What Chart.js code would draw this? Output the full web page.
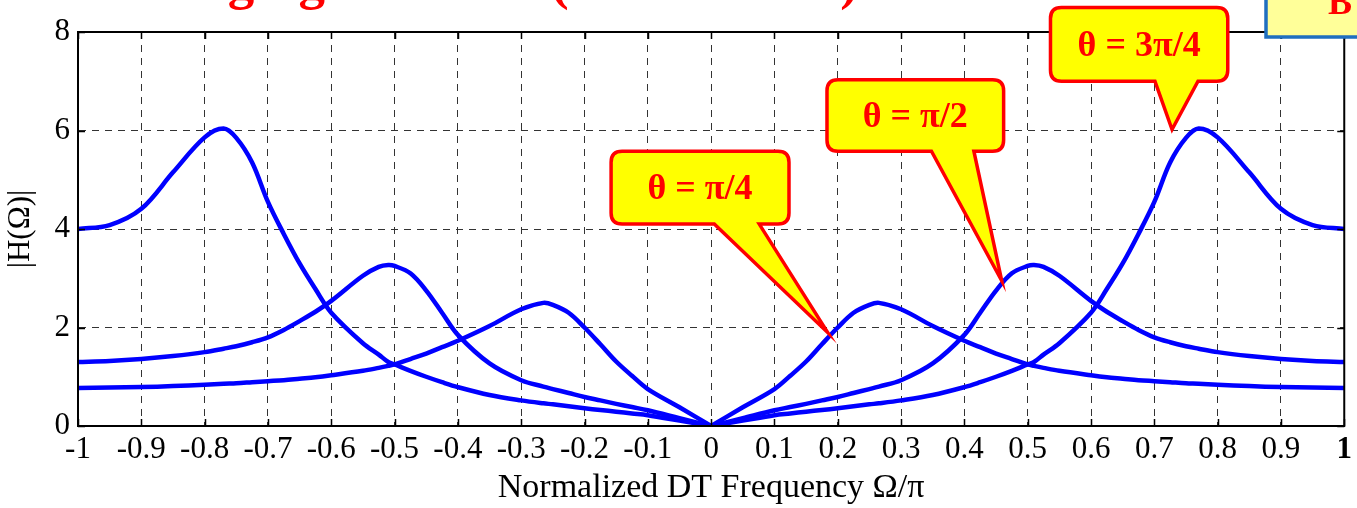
<!DOCTYPE html>
<html>
<head>
<meta charset="utf-8">
<script src="https://cdn.jsdelivr.net/npm/chart.js@4.4.1/dist/chart.umd.min.js"></script>
<style>
  html, body { margin: 0; padding: 0; background: #fff; }
  #wrap { width: 1357px; height: 508px; position: relative; }
</style>
</head>
<body>
<div id="wrap"><canvas id="magChart" width="1357" height="508"></canvas></div>
<script>
// normalized frequency Omega/pi
const freq = [-1, -0.95, -0.9, -0.85, -0.8, -0.77, -0.75, -0.725, -0.7, -0.675, -0.65, -0.625, -0.6,
    -0.55, -0.525, -0.51, -0.5, -0.475, -0.45, -0.425, -0.4, -0.35, -0.3, -0.265, -0.25,
    -0.225, -0.2, -0.175, -0.15, -0.125, -0.1, -0.05, 0,
    0.05, 0.1, 0.125, 0.15, 0.175, 0.2, 0.225, 0.25, 0.265, 0.3, 0.35, 0.4, 0.425,
    0.45, 0.475, 0.5, 0.51, 0.525, 0.55, 0.6, 0.625, 0.65, 0.675, 0.7, 0.725, 0.75,
    0.77, 0.8, 0.85, 0.9, 0.95, 1];

// |H| for theta = pi/4
const magQuarter = [0.77, 0.78, 0.79, 0.81, 0.84, 0.86, 0.87, 0.89, 0.91, 0.93, 0.96, 0.99, 1.03,
    1.12, 1.18, 1.22, 1.25, 1.36, 1.47, 1.6, 1.73, 2.03, 2.37, 2.5, 2.46,
    2.3, 2.0, 1.66, 1.31, 1.02, 0.75, 0.38, 0,
    0.38, 0.75, 1.02, 1.31, 1.66, 2.0, 2.3, 2.46, 2.5, 2.37, 2.03, 1.73, 1.6,
    1.47, 1.36, 1.25, 1.22, 1.18, 1.12, 1.03, 0.99, 0.96, 0.93, 0.91, 0.89, 0.87,
    0.86, 0.84, 0.81, 0.79, 0.78, 0.77];

// |H| for theta = pi/2
const magHalf = [1.3, 1.32, 1.36, 1.42, 1.5, 1.57, 1.62, 1.7, 1.8, 1.95, 2.13, 2.32, 2.54,
    3.05, 3.23, 3.27, 3.25, 3.1, 2.75, 2.3, 1.85, 1.27, 0.93, 0.8, 0.75,
    0.67, 0.59, 0.52, 0.45, 0.385, 0.32, 0.16, 0,
    0.16, 0.32, 0.385, 0.45, 0.52, 0.59, 0.67, 0.75, 0.8, 0.93, 1.27, 1.85, 2.3,
    2.75, 3.1, 3.25, 3.27, 3.23, 3.05, 2.54, 2.32, 2.13, 1.95, 1.8, 1.7, 1.62,
    1.57, 1.5, 1.42, 1.36, 1.32, 1.3];

// |H| for theta = 3pi/4
const magThreeQuarter = [4.0, 4.08, 4.41, 5.15, 5.86, 6.04, 5.85, 5.35, 4.55, 3.9, 3.3, 2.78, 2.3,
    1.68, 1.45, 1.3, 1.25, 1.12, 1.0, 0.89, 0.79, 0.63, 0.52, 0.46, 0.44,
    0.4, 0.36, 0.325, 0.29, 0.255, 0.22, 0.11, 0,
    0.11, 0.22, 0.255, 0.29, 0.325, 0.36, 0.4, 0.44, 0.46, 0.52, 0.63, 0.79, 0.89,
    1.0, 1.12, 1.25, 1.3, 1.45, 1.68, 2.3, 2.78, 3.3, 3.9, 4.55, 5.35, 5.85,
    6.04, 5.86, 5.15, 4.41, 4.08, 4.0];

const xTickValues = [-1, -0.9, -0.8, -0.7, -0.6, -0.5, -0.4, -0.3, -0.2, -0.1, 0,
    0.1, 0.2, 0.3, 0.4, 0.5, 0.6, 0.7, 0.8, 0.9, 1];
const xTickLabels = ['-1', '-0.9', '-0.8', '-0.7', '-0.6', '-0.5', '-0.4', '-0.3', '-0.2', '-0.1', '0',
    '0.1', '0.2', '0.3', '0.4', '0.5', '0.6', '0.7', '0.8', '0.9', '1'];
const yTickValues = [0, 2, 4, 6, 8];

// callout balloons, given in data units (tip, box corners, tail base)
const callouts = [
    { text: 'θ = π/4', tip: [0.184, 1.9], x0: -0.158, x1: 0.123, y0: 5.58, y1: 4.1, tail: [0.005, 0.076] },
    { text: 'θ = π/2', tip: [0.459, 2.95], x0: 0.183, x1: 0.462, y0: 7.03, y1: 5.58, tail: [0.348, 0.415] },
    { text: 'θ = 3π/4', tip: [0.728, 6.02], x0: 0.536, x1: 0.816, y0: 8.5, y1: 7.0, tail: [0.701, 0.769] }
];

const SERIF = '"Liberation Serif", "Times New Roman", serif';

// split each curve at 0 so the notch stays sharp
function halves(values) {
    const left = [], right = [];
    freq.forEach((f, i) => {
        if (f <= 0) left.push({ x: f, y: values[i] });
        if (f >= 0) right.push({ x: f, y: values[i] });
    });
    return [left, right];
}

function makeDatasets() {
    const sets = [];
    [magQuarter, magHalf, magThreeQuarter].forEach(values => {
        halves(values).forEach(part => {
            sets.push({
                data: part,
                borderColor: '#0000ff',
                borderWidth: 4.5,
                pointRadius: 0,
                fill: false,
                tension: 0.35,
                borderJoinStyle: 'round',
                borderCapStyle: 'round'
            });
        });
    });
    return sets;
}

// frame, inside tick marks, callouts and the clipped texts at the top
const decorPlugin = {
    id: 'decor',
    afterDraw(chart) {
        const ctx = chart.ctx;
        const area = chart.chartArea;
        const xs = chart.scales.x;
        const ys = chart.scales.y;

        ctx.save();
        ctx.strokeStyle = '#000';
        ctx.lineWidth = 1.5;
        ctx.setLineDash([]);
        xTickValues.forEach(v => {
            const px = Math.round(xs.getPixelForValue(v)) + 0.5;
            ctx.beginPath();
            ctx.moveTo(px, area.top); ctx.lineTo(px, area.top + 7);
            ctx.moveTo(px, area.bottom); ctx.lineTo(px, area.bottom - 7);
            ctx.stroke();
        });
        yTickValues.forEach(v => {
            const py = Math.round(ys.getPixelForValue(v)) + 0.5;
            ctx.beginPath();
            ctx.moveTo(area.left, py); ctx.lineTo(area.left + 7, py);
            ctx.moveTo(area.right, py); ctx.lineTo(area.right - 7, py);
            ctx.stroke();
        });
        ctx.lineWidth = 2;
        ctx.strokeRect(area.left, area.top, area.right - area.left, area.bottom - area.top);

        // balloons
        callouts.forEach(c => {
            const l = xs.getPixelForValue(c.x0), r = xs.getPixelForValue(c.x1);
            const t = ys.getPixelForValue(c.y0), b = ys.getPixelForValue(c.y1);
            const tl = xs.getPixelForValue(c.tail[0]), tr = xs.getPixelForValue(c.tail[1]);
            const tx = xs.getPixelForValue(c.tip[0]), ty = ys.getPixelForValue(c.tip[1]);
            const rad = 11;
            ctx.beginPath();
            ctx.moveTo(l + rad, t);
            ctx.lineTo(r - rad, t);
            ctx.quadraticCurveTo(r, t, r, t + rad);
            ctx.lineTo(r, b - rad);
            ctx.quadraticCurveTo(r, b, r - rad, b);
            ctx.lineTo(tr, b);
            ctx.lineTo(tx, ty);
            ctx.lineTo(tl, b);
            ctx.lineTo(l + rad, b);
            ctx.quadraticCurveTo(l, b, l, b - rad);
            ctx.lineTo(l, t + rad);
            ctx.quadraticCurveTo(l, t, l + rad, t);
            ctx.closePath();
            ctx.fillStyle = '#ffff00';
            ctx.fill();
            ctx.strokeStyle = '#ff0000';
            ctx.lineWidth = 3.5;
            ctx.lineJoin = 'miter';
            ctx.stroke();

            ctx.fillStyle = '#ff0000';
            ctx.font = 'bold 36px ' + SERIF;
            ctx.textAlign = 'center';
            ctx.textBaseline = 'middle';
            ctx.fillText(c.text, (l + r) / 2, (t + b) / 2 + 2);
        });

        // heading, mostly outside the picture
        ctx.fillStyle = '#ff0000';
        ctx.font = 'bold 53px ' + SERIF;
        ctx.textBaseline = 'alphabetic';
        ctx.textAlign = 'left';
        ctx.fillText('Changing θ', 104, -1);
        ctx.textAlign = 'right';
        ctx.fillText('(r = 0.8 fixed)', 858, -1);

        // partial box in the top right corner
        ctx.fillStyle = '#ffff99';
        ctx.fillRect(1266, -10, 100, 47);
        ctx.strokeStyle = '#1f6fc0';
        ctx.lineWidth = 3.5;
        ctx.strokeRect(1266, -10, 100, 47);
        ctx.fillStyle = '#ff0000';
        ctx.font = 'bold 36px ' + SERIF;
        ctx.textAlign = 'left';
        ctx.fillText('B', 1328, 14);
        ctx.restore();
    }
};

document.addEventListener('DOMContentLoaded', () => {
    const ctx = document.getElementById('magChart').getContext('2d');

    new Chart(ctx, {
        type: 'line',
        data: { datasets: makeDatasets() },
        options: {
            responsive: false,
            animation: false,
            layout: { padding: { top: 32, right: 10, left: 0, bottom: 0 } },
            plugins: {
                legend: { display: false },
                title: { display: false },
                tooltip: { enabled: false }
            },
            scales: {
                x: {
                    type: 'linear',
                    min: -1,
                    max: 1,
                    afterBuildTicks: scale => {
                        scale.ticks = xTickValues.map(v => ({ value: v }));
                    },
                    afterFit: scale => { scale.height = 82; },
                    grid: { color: '#333', lineWidth: 1, drawTicks: false },
                    border: { display: true, color: '#000', width: 2, dash: [7, 6] },
                    ticks: {
                        color: '#000',
                        padding: 5,
                        maxRotation: 0,
                        autoSkip: false,
                        font: c => ({
                            family: SERIF,
                            size: 31,
                            weight: (c.tick && c.tick.value === 1) ? 'bold' : 'normal'
                        }),
                        callback: (value, index) => xTickLabels[index]
                    },
                    title: {
                        display: true,
                        text: 'Normalized DT Frequency Ω/π',
                        color: '#000',
                        font: { family: SERIF, size: 34 },
                        padding: { top: 0, bottom: 0 }
                    }
                },
                y: {
                    type: 'linear',
                    min: 0,
                    max: 8,
                    afterBuildTicks: scale => {
                        scale.ticks = yTickValues.map(v => ({ value: v }));
                    },
                    afterFit: scale => { scale.width = 78; },
                    grid: { color: '#333', lineWidth: 1, drawTicks: false },
                    border: { display: true, color: '#000', width: 2, dash: [7, 6] },
                    ticks: {
                        color: '#000',
                        padding: 8,
                        font: { family: SERIF, size: 31 },
                        callback: value => String(value)
                    },
                    title: {
                        display: true,
                        text: '|H(Ω)|',
                        color: '#000',
                        font: { family: SERIF, size: 31 },
                        padding: { top: 2, bottom: 0 }
                    }
                }
            }
        },
        plugins: [decorPlugin]
    });
});
</script>
</body>
</html>
